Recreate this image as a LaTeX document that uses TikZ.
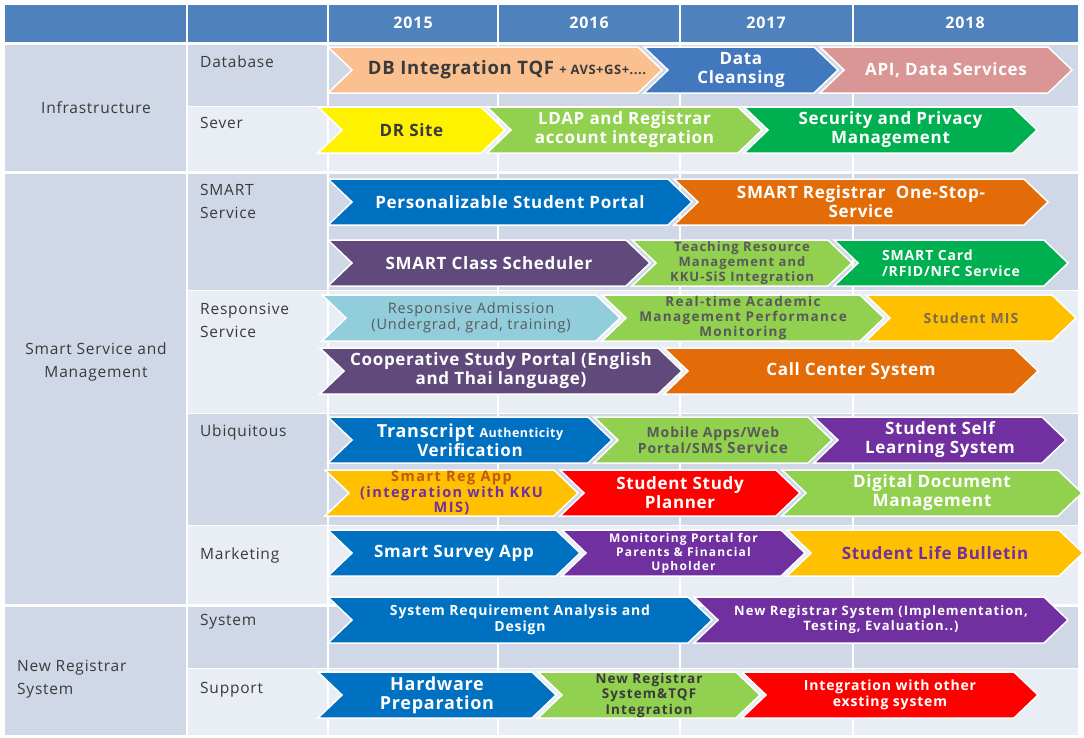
\documentclass[tikz,border=0pt]{standalone}
\usepackage{fontspec}
\setmainfont{Open Sans}

\definecolor{hdr}{HTML}{4F81BD}
\definecolor{rowdk}{HTML}{D0D8E8}
\definecolor{rowlt}{HTML}{E9EDF4}
\definecolor{peach}{HTML}{FAC090}
\definecolor{cleanblue}{HTML}{4178BE}
\definecolor{rose}{HTML}{D99694}
\definecolor{lgreen}{HTML}{92D050}
\definecolor{dgreen}{HTML}{00B050}
\definecolor{kblue}{HTML}{0070C0}
\definecolor{korange}{HTML}{E36C09}
\definecolor{slate}{HTML}{604A7B}
\definecolor{lblue}{HTML}{92CDDC}
\definecolor{amber}{HTML}{FFC000}
\definecolor{kpurple}{HTML}{7030A0}
\definecolor{kred}{HTML}{FF0000}
\definecolor{grytxt}{HTML}{595959}
\definecolor{drktxt}{HTML}{3A3A3A}
\definecolor{brntxt}{HTML}{7F6A4A}
\definecolor{regtxt}{HTML}{C05A10}

\newcommand\spaced[1]{\addfontfeature{LetterSpace=#1}}

\tikzset{
  grid/.style={draw=white, line width=1.5pt},
  chevron/.style={draw=white, line width=1.5pt, line join=miter},
  lab/.style={font=\fontsize{15.5}{23}\selectfont\spaced{5}, text=drktxt, inner sep=0pt},
  year/.style={font=\fontsize{16}{18}\selectfont\bfseries\spaced{6}, text=white, inner sep=0pt},
  txtbig/.style={font=\fontsize{17}{19}\selectfont\bfseries\spaced{4}, align=center, inner sep=0pt},
  txtmid/.style={font=\fontsize{14}{16}\selectfont\bfseries\spaced{6}, align=center, inner sep=0pt},
  txtsmall/.style={font=\fontsize{13}{15}\selectfont\bfseries\spaced{8}, align=center, inner sep=0pt},
  txtreg/.style={font=\fontsize{14.5}{16}\selectfont\spaced{6}, align=center, inner sep=0pt},
}

% name, left x, tip x, centre y, fill, text colour, text style, text
\newcommand\chev[8]{%
  \filldraw[chevron, fill=#5] (#2,#4-23) -- (#3-24,#4-23) -- (#3,#4) -- (#3-24,#4+23)
    -- (#2,#4+23) -- (#2+24,#4) -- cycle;
  \node[#7, text=#6] (#1) at ({(#2+#3)/2},#4) {#8};
}

\begin{document}
\begin{tikzpicture}[x=1pt,y=-1pt]
\useasboundingbox (0,0) rectangle (1084,737);

% table background
\fill[hdr] (5,5) rectangle (1078,43);
\fill[rowdk] (5,43) rectangle (187,735);
\foreach \t/\b/\c in {43/106/rowdk,106/172/rowlt,172/290/rowdk,290/413/rowlt,
                      413/525/rowdk,525/605/rowlt,605/668/rowdk,668/735/rowlt}{
    \fill[\c] (187,\t) rectangle (1078,\b);
}
\foreach \x in {498,680,853}{
    \draw[grid] (\x,5) -- (\x,735);
}
\draw[grid, line width=2.5pt] (187,5) -- (187,735);
\draw[grid, line width=2pt] (328,5) -- (328,735);
\foreach \y in {43,172,605}{
    \draw[grid, line width=3pt] (5,\y) -- (1078,\y);
}
\foreach \y in {106,290,413,525,668}{
    \draw[grid, line width=1pt] (187,\y) -- (1078,\y);
}

% years
\node[year] (y2015) at (413,23) {2015};
\node[year] (y2016) at (589,23) {2016};
\node[year] (y2017) at (766,23) {2017};
\node[year] (y2018) at (965,23) {2018};

% row labels
\node[lab] (infra) at (96,108) {Infrastructure};
\node[lab, align=center] (smart) at (96,362) {Smart Service and\\Management};
\node[lab, align=left, anchor=west] (newsys) at (17,679) {New Registrar\\System};
\node[lab, anchor=west] (database) at (200,62) {Database};
\node[lab, anchor=west] (sever) at (200,123) {Sever};
\node[lab, align=left, anchor=west] (smartsrv) at (200,201) {SMART\\Service};
\node[lab, align=left, anchor=west] (respsrv) at (200,320) {Responsive\\Service};
\node[lab, anchor=west] (ubiq) at (200,432) {Ubiquitous};
\node[lab, anchor=west] (market) at (200,555) {Marketing};
\node[lab, anchor=west] (system) at (200,622) {System};
\node[lab, anchor=west] (support) at (200,690) {Support};

% Database
\chev{dbint}{328}{662}{70}{peach}{drktxt}{txtbig, xshift=12}{{\fontsize{18.5}{21}\selectfont DB Integration TQF} {\fontsize{13}{15}\selectfont + AVS+GS+....}}
\chev{clean}{644}{838}{70}{cleanblue}{white}{txtbig}{Data\\Cleansing}
\chev{api}{820}{1072}{70}{rose}{white}{txtbig}{API, Data Services}
% Sever
\chev{drsite}{318}{505}{130}{yellow}{drktxt}{txtbig}{DR Site}
\chev{ldap}{487}{762}{130}{lgreen}{white}{txtbig}{LDAP and Registrar\\account integration}
\chev{secur}{744}{1037}{130}{dgreen}{white}{txtbig}{Security and Privacy\\Management}
% SMART Service
\chev{portal}{328}{692}{202}{kblue}{white}{txtbig}{Personalizable Student Portal}
\chev{onestop}{674}{1048}{202}{korange}{white}{txtbig}{SMART Registrar\ \ One-Stop-\\Service}
\chev{sched}{328}{650}{263}{slate}{white}{txtbig}{SMART Class Scheduler}
\chev{teach}{632}{852}{263}{lgreen}{grytxt}{txtsmall}{Teaching Resource\\Management and\\KKU-SiS Integration}
\chev{card}{834}{1068}{263}{dgreen}{white}{txtmid, align=left}{SMART Card\\/RFID/NFC Service}
% Responsive Service
\chev{admis}{322}{620}{318}{lblue}{grytxt}{txtreg}{Responsive Admission\\(Undergrad, grad, training)}
\chev{realtime}{602}{884}{318}{lgreen}{grytxt}{txtsmall, font=\fontsize{13.5}{15}\selectfont\bfseries\spaced{10}}{Real-time Academic\\Management Performance\\Monitoring}
\chev{mis}{866}{1076}{318}{amber}{brntxt}{txtsmall, font=\fontsize{14}{16}\selectfont\bfseries\spaced{8}}{Student MIS}
\chev{coop}{320}{682}{371}{slate}{white}{txtbig}{Cooperative Study Portal (English\\and Thai language)}
\chev{call}{664}{1038}{371}{korange}{white}{txtbig}{Call Center System}
% Ubiquitous
\chev{transcript}{328}{612}{440}{kblue}{white}{txtbig}{{\fontsize{18}{19}\selectfont Transcript} {\fontsize{12.5}{14}\selectfont Authenticity}\\Verification}
\chev{mobile}{594}{832}{440}{lgreen}{grytxt}{txtmid}{Mobile Apps/Web\\Portal/SMS {\fontsize{15.5}{16}\selectfont Service}}
\chev{selflearn}{814}{1066}{440}{kpurple}{white}{txtbig}{Student Self\\Learning System}
\chev{regapp}{325}{578}{493}{amber}{regtxt}{txtsmall, font=\fontsize{14.5}{15.5}\selectfont\bfseries\spaced{10}}{Smart Reg App\\\textcolor{kpurple}{(integration with KKU}\\\textcolor{kpurple}{MIS)}}
\chev{planner}{560}{800}{493}{kred}{white}{txtbig}{Student Study\\Planner}
\chev{digidoc}{782}{1082}{493}{lgreen}{white}{txtbig}{Digital Document\\Management}
% Marketing
\chev{survey}{328}{580}{553}{kblue}{white}{txtbig}{Smart Survey App}
\chev{monitor}{562}{805}{553}{kpurple}{white}{txtsmall, font=\fontsize{12}{14}\selectfont\bfseries\spaced{10}}{Monitoring Portal for\\Parents \& Financial\\Upholder}
\chev{bulletin}{787}{1083}{553}{amber}{kpurple}{txtbig}{Student Life Bulletin}
% System
\chev{sysreq}{328}{712}{620}{kblue}{white}{txtmid}{System Requirement Analysis and\\Design}
\chev{newreg}{694}{1068}{620}{kpurple}{white}{txtsmall}{New Registrar System (Implementation,\\Testing, Evaluation..)}
% Support
\chev{hardware}{318}{556}{695}{kblue}{white}{txtbig, font=\fontsize{18}{19}\selectfont\bfseries\spaced{4}}{Hardware\\Preparation}
\chev{tqf}{538}{760}{695}{lgreen}{drktxt}{txtsmall, font=\fontsize{13.5}{15.5}\selectfont\bfseries\spaced{8}}{New Registrar\\System\&TQF\\Integration}
\chev{extint}{742}{1038}{695}{kred}{white}{txtmid}{Integration with other\\exsting system}
\end{tikzpicture}
\end{document}
